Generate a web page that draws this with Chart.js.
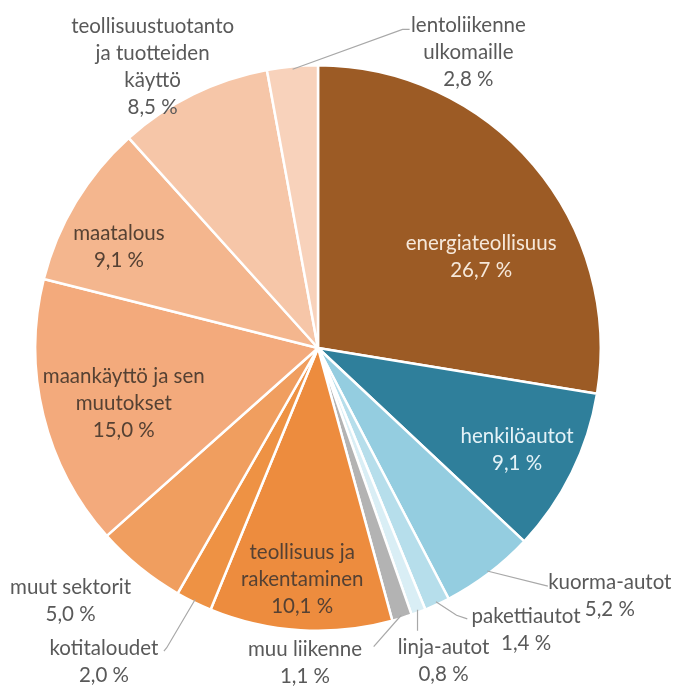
<!DOCTYPE html>
<html lang="fi">
<head>
<meta charset="utf-8">
<title>Kasvihuonekaasupäästöt sektoreittain</title>
<script src="https://cdn.jsdelivr.net/npm/chart.js@4.4.1/dist/chart.umd.min.js"></script>
<style>
  html, body { margin: 0; padding: 0; background: #ffffff; }
  #wrap { width: 680px; height: 687px; }
</style>
</head>
<body>
<div id="wrap"><canvas id="chart" width="680" height="687"></canvas></div>
<script>
// Sectors, clockwise from twelve o'clock
const categories = [
  ['energiateollisuus'],
  ['henkilöautot'],
  ['kuorma-autot'],
  ['pakettiautot'],
  ['linja-autot'],
  ['muu liikenne'],
  ['teollisuus ja', 'rakentaminen'],
  ['kotitaloudet'],
  ['muut sektorit'],
  ['maankäyttö ja sen', 'muutokset'],
  ['maatalous'],
  ['teollisuustuotanto', 'ja tuotteiden', 'käyttö'],
  ['lentoliikenne', 'ulkomaille']
];

// Share of emissions, %
const shares = [26.7, 9.1, 5.2, 1.4, 0.8, 1.1, 10.1, 2.0, 5.0, 15.0, 9.1, 8.5, 2.8];

const sliceColors = [
  '#9c5b25', '#2f7f9b', '#94cde0', '#b6deeb', '#d9eef5', '#b3b3b3',
  '#ed8c3e', '#ee9244', '#f09e5f', '#f3aa7c', '#f4b68e', '#f6c6a8', '#f8d2bb'
];

// Label block centre, in units of the pie radius from the pie centre
const labelPlacement = [
  { dx: 0.577, dy: -0.322, color: '#f6e8da' },
  { dx: 0.704, dy: 0.359, color: '#e4f2f7' },
  { dx: 1.032, dy: 0.875, color: '#595959', leader: [[0.813, 0.842]] },
  { dx: 0.736, dy: 0.996, color: '#595959', leader: [[0.490, 0.945], [0.528, 0.958]] },
  { dx: 0.444, dy: 1.107, color: '#595959', leader: [[0.352, 1.000]] },
  { dx: -0.046, dy: 1.113, color: '#595959', leader: [[0.197, 1.056]] },
  { dx: -0.056, dy: 0.820, color: '#554133' },
  { dx: -0.757, dy: 1.111, color: '#595959', leader: [[-0.535, 1.060], [-0.545, 1.072]] },
  { dx: -0.875, dy: 0.893, color: '#595959' },
  { dx: -0.687, dy: 0.195, color: '#554133' },
  { dx: -0.704, dy: -0.357, color: '#554133' },
  { dx: -0.585, dy: -0.994, color: '#595959' },
  { dx: 0.532, dy: -1.046, color: '#595959', leader: [[0.299, -1.127], [0.324, -1.127]] }
];

const fmtPct = v => v.toFixed(1).replace('.', ',') + ' %';

const sliceLabels = {
  id: 'sliceLabels',
  afterDatasetsDraw(chart) {
    const ctx = chart.ctx;
    const arcs = chart.getDatasetMeta(0).data;
    const lineH = 27;
    ctx.save();
    ctx.font = '20.5px Lato, "Open Sans", sans-serif';
    ctx.textAlign = 'center';
    ctx.textBaseline = 'middle';
    arcs.forEach((arc, i) => {
      const p = labelPlacement[i];
      const { x, y, startAngle, endAngle, outerRadius: r } = arc.getProps(['x', 'y', 'startAngle', 'endAngle', 'outerRadius'], true);
      if (p.leader) {
        const mid = (startAngle + endAngle) / 2;
        ctx.strokeStyle = '#a8a8a8';
        ctx.lineWidth = 1.2;
        ctx.beginPath();
        ctx.moveTo(x + Math.cos(mid) * r * 0.99, y + Math.sin(mid) * r * 0.99);
        p.leader.forEach(([lx, ly]) => ctx.lineTo(x + lx * r, y + ly * r));
        ctx.stroke();
      }
      const lines = categories[i].concat([fmtPct(shares[i])]);
      const cx = x + p.dx * r;
      const top = y + p.dy * r - (lines.length - 1) * lineH / 2;
      ctx.fillStyle = p.color;
      lines.forEach((t, k) => ctx.fillText(t, cx, top + k * lineH));
    });
    ctx.restore();
  }
};

new Chart(document.getElementById('chart'), {
  type: 'pie',
  data: {
    labels: categories.map(c => c.join(' ')),
    datasets: [{
      data: shares,
      backgroundColor: sliceColors,
      borderColor: '#ffffff',
      borderWidth: 2.5
    }]
  },
  options: {
    responsive: false,
    animation: false,
    layout: { padding: { left: 34, right: 78, top: 64, bottom: 55 } },
    plugins: {
      legend: { display: false },
      tooltip: { enabled: false }
    }
  },
  plugins: [sliceLabels]
});
</script>
</body>
</html>
